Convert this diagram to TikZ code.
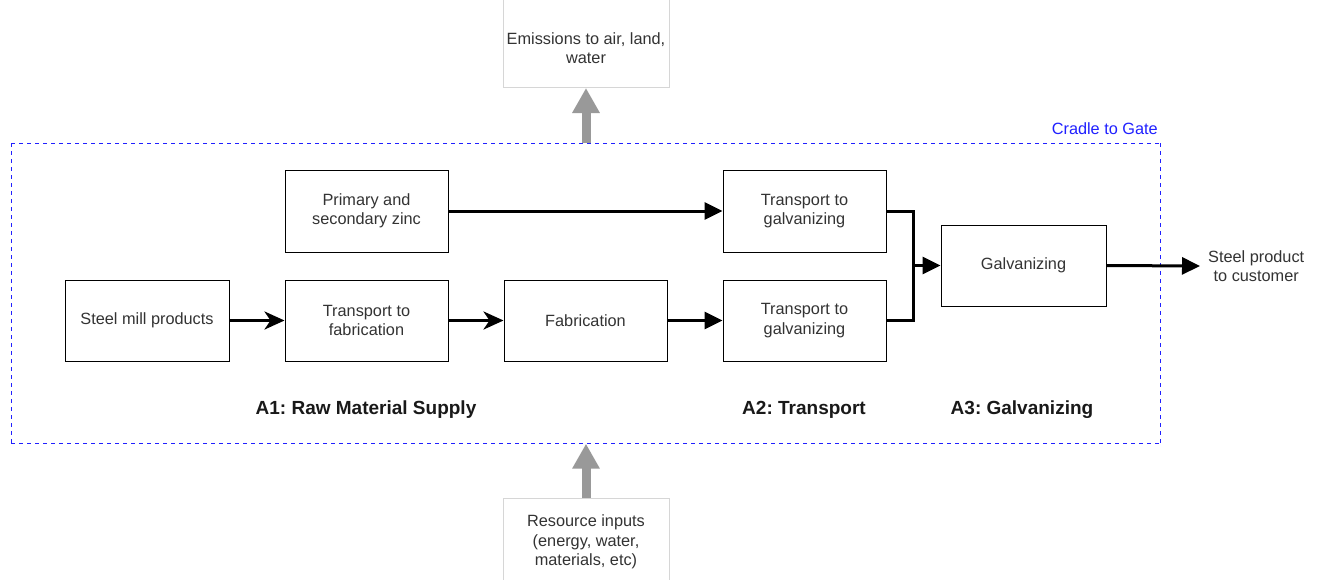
\documentclass[tikz,border=0pt]{standalone}
\usepackage{fontspec}
\setmainfont{Liberation Sans}
\usetikzlibrary{arrows.meta}
\frenchspacing
\definecolor{txt}{HTML}{333333}
\definecolor{frameblue}{HTML}{2020FF}
\definecolor{arrgray}{HTML}{999999}
\definecolor{lightborder}{HTML}{D6D6D6}
\tikzset{
  proc/.style={draw=black, line width=1pt, minimum width=163pt, minimum height=82pt,
    align=center, text=txt, font=\fontsize{16.3}{19.5}\selectfont, inner sep=2pt},
  lbox/.style={draw=lightborder, line width=0.8pt, minimum width=166pt},
  ltext/.style={align=center, text=txt, font=\fontsize{16.3}{19.5}\selectfont, inner sep=0pt},
  phase/.style={font=\bfseries\fontsize{19}{22}\selectfont, text=black!90},
  flow/.style={line width=3pt, draw=black},
  blk/.style={flow, -{Triangle[length=18pt, width=17pt]}},
  stl/.style={flow, -{Stealth[length=20pt, width=18pt, inset=6pt]}},
  fat/.style={line width=9pt, draw=arrgray, -{Triangle[length=25pt, width=26pt]}},
  dashseg/.style={draw=frameblue, line width=1.4pt},
}
\begin{document}
\begin{tikzpicture}[x=1pt, y=-1pt]
\useasboundingbox[fill=white] (0,0) rectangle (1317,579);

% frame (dashes drawn piece by piece)
\node (frame) [minimum width=1149pt, minimum height=300pt, inner sep=0pt] at (586,293.5) {};
\foreach \x in {0,8,...,1144} {
  \draw[dashseg] ([xshift=\x pt]frame.north west) -- ++(4,0);
  \draw[dashseg] ([xshift=\x pt]frame.south west) -- ++(4,0);
}
\foreach \y in {0,8,...,296} {
  \draw[dashseg] ([yshift=-\y pt]frame.north west) -- ++(0,4);
  \draw[dashseg] ([yshift=-\y pt]frame.north east) -- ++(0,4);
}
\node (cg) [anchor=east, text=frameblue, font=\fontsize{16.3}{19.5}\selectfont, inner sep=0pt] at (1158,129) {Cradle to Gate};

% emissions & resources
\node (emis) [lbox, anchor=south, minimum height=110pt] at (586,88) {};
\node (emisT) [ltext] at (586,48) {Emissions to air, land,\\water};
\node (res) [lbox, anchor=north, minimum height=110pt] at (586,498) {};
\node (resT) [ltext] at (586,542) {Resource inputs\\(energy, water,\\materials, etc)};

\draw[fat] (frame.north) -- (emis.south);
\draw[fat] (res.north) -- (frame.south);

% process boxes
\node (zinc) [proc] at (366.5,211) {Primary and\\secondary zinc};
\node (tgTop) [proc] at (804.5,211) {Transport to\\galvanizing};
\node (steel) [proc, minimum width=164pt, minimum height=81pt] at (147,320.5) {Steel mill products};
\node (tfab) [proc, minimum height=81pt] at (366.5,320.5) {Transport to\\fabrication};
\node (fab) [proc, minimum height=81pt] at (585.5,320.5) {Fabrication};
\node (tgBot) [proc, minimum height=81pt] at (804.5,320.5) {Transport to\\galvanizing};
\node (galv) [proc, minimum width=165pt, minimum height=81pt] at (1023.5,265.5) {Galvanizing};
\node (out) [ltext, anchor=west, inner xsep=8pt] at (1200,266) {Steel product\\to customer};

% connectors
\draw[blk] (zinc.east) -- (tgTop.west);
\draw[stl] (steel.east) -- (tfab.west);
\draw[stl] (tfab.east) -- (fab.west);
\draw[blk] (fab.east) -- (tgBot.west);
\coordinate (m) at (913,265.5);
\draw[flow, line join=miter] (tgTop.east) -| (m);
\draw[flow, line join=miter] (tgBot.east) -| (m);
\draw[blk] (m) -- (galv.west);
\draw[blk] (galv.east) -- (out.west);

% phase labels
\node (a1) [phase] at (366,410) {A1: Raw Material Supply};
\node (a2) [phase] at (804,410) {A2: Transport};
\node (a3) [phase] at (1022,410) {A3: Galvanizing};
\end{tikzpicture}
\end{document}
